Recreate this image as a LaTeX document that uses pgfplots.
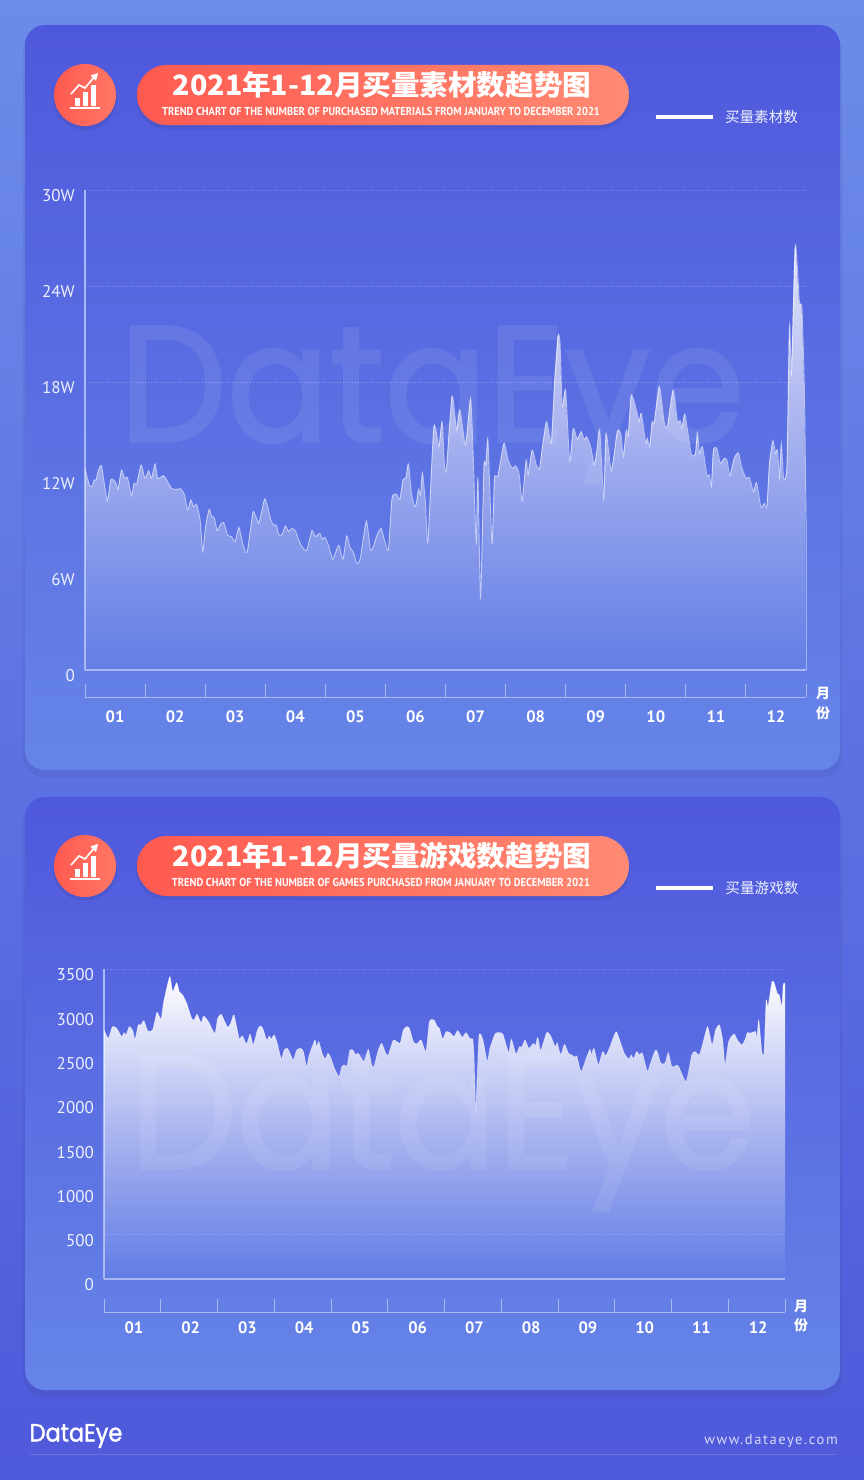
\documentclass[border=0pt]{standalone}
\usepackage{fontspec}
\usepackage{pgfplots}
\usepackage{pgfplotstable}
\pgfplotsset{compat=1.18}
\usetikzlibrary{fadings}
\setmainfont{PT Sans}
\newfontfamily\cjk{Noto Sans CJK SC}
\newfontfamily\markfont[FakeBold=1.6]{Poppins}
\newfontfamily\urlfont[LetterSpace=11]{PT Sans}

\definecolor{axisc}{HTML}{A9B8F2}
\definecolor{pageT}{HTML}{6C8CE9}
\definecolor{pageB}{HTML}{4F59DB}
\definecolor{cardT}{HTML}{4F58DC}
\definecolor{cardB}{HTML}{6685E8}
\definecolor{pillL}{HTML}{FF5A50}
\definecolor{pillR}{HTML}{FF8A73}
\definecolor{labelc}{HTML}{EEF1FD}

\tikzfading[name=areafadeA, top color=transparent!15, bottom color=transparent!100]
\tikzfading[name=areafadeB, top color=transparent!0, bottom color=transparent!100]

% values in W, x is the day position (30 per month on the axis)
\pgfplotstableread{
day val
0 12.60
1.2 11.98
2.5 11.50
3.7 11.50
4.5 11.88
5.5 11.88
6.7 12.50
8.2 12.77
9.5 11.77
11.2 10.56
12.8 11.88
14.2 11.88
15.5 11.67
16.5 11.29
18.2 12.50
19.8 11.98
21.2 12.04
23.2 10.90
24.5 11.67
25.8 11.63
28 12.81
30 11.98
31.8 12.46
33.2 11.98
35 12.88
36.3 11.98
37.8 12.04
39.2 12.15
40.8 11.88
43.2 11.35
45.8 11.29
47.8 11.33
49.7 10.94
51.2 10.00
52.8 10.63
54.2 10.21
55.8 10.33
57.5 9.38
58.8 7.40
60.2 8.96
62 10.04
63.3 9.58
64.5 9.54
66 8.71
67.5 9.06
69.2 9.23
71.2 8.44
73.2 8.33
75 8.02
76.8 8.92
78.3 8.13
80 7.40
81.2 7.50
83.8 9.83
85 9.69
86.7 9.17
88 9.79
89.7 10.69
91.2 10.21
92.8 9.38
94.2 9.06
95.5 9.06
96.8 8.44
98.5 8.48
100 9.00
101.7 8.65
103.3 8.85
105 8.71
106.7 8.13
108.3 7.71
110.7 7.46
113.3 8.71
115 8.33
117.2 8.54
118.5 8.17
119.8 8.29
121.8 7.71
123.7 6.92
126.7 7.79
128.8 6.92
130.7 8.38
132.2 7.71
134.2 7.29
135.8 6.63
137.5 6.98
140.5 9.31
142.5 7.50
144.2 7.77
145.5 8.33
147.8 8.85
149.5 8.13
151.5 7.50
153.3 10.73
155.5 11.00
157.2 10.67
158.8 11.88
160.3 12.04
161.5 12.88
163 11.04
164.5 10.21
165.5 10.42
166.5 11.29
167.5 10.94
168.5 12.33
170 10.42
171.2 8.02
174.2 15.21
176.7 13.96
178.3 15.52
179.5 12.71
180.5 12.60
183.3 17.13
185.5 15.00
187.2 16.25
190 14.06
192.5 16.98
193.7 13.96
195.3 7.92
196.2 11.98
197.5 4.42
199.2 12.71
200.2 12.81
201.2 14.38
203.2 7.92
204.5 11.98
206.2 12.13
209.2 14.17
211.2 13.13
213.3 12.60
215 12.75
216.7 12.29
218.3 10.58
220.3 13.13
221.2 12.19
223.3 13.75
225.3 12.81
227 12.60
228.3 13.85
230.5 15.52
232.8 14.17
234.5 18.02
236.2 20.88
237.2 20.42
238.3 16.46
240 17.50
242 13.02
243.8 15.10
245.8 14.42
247.8 14.90
249.2 14.38
250.5 14.58
252.5 13.96
254.2 12.81
255.5 13.54
257 15.00
259 10.67
260.2 14.79
262.8 12.46
265.8 14.90
267.5 14.79
268.8 13.33
270.3 15.00
271.2 14.58
272.8 17.19
275.5 16.15
276.7 15.52
277.8 16.04
280 14.17
280.8 14.48
282 13.96
283.2 15.52
284.2 15.42
286.8 17.71
289.2 15.46
290.8 15.21
293.7 17.50
295.8 15.52
297.2 15.58
298 15.10
299.5 16.00
300.8 15.00
302.8 13.44
304.8 13.50
305.8 14.83
306.8 13.54
308.3 13.96
310.5 12.19
311.8 12.19
312.8 11.46
313.8 13.75
315.5 13.85
317.2 12.92
319.2 13.23
320.5 13.13
322 12.15
324.2 13.23
326.3 13.58
327.8 12.71
330 11.98
331.7 12.04
333.8 11.15
335.3 11.71
337.5 10.17
339.2 10.42
340.5 10.21
341.8 12.92
343.5 14.33
344.8 13.54
345.8 13.75
346.8 11.98
347.7 14.17
348.8 11.98
350.5 12.71
351.8 21.56
352.8 18.54
354.7 26.56
356.7 23.02
358 22.60
359.2 17.50
360 9.50
}\materials

\pgfplotstableread{
day val
0 2811
2.3 2717
4.4 2849
6.7 2830
9.3 2736
10.6 2781
11.6 2755
13.4 2849
15.2 2804
16.4 2706
18.1 2868
19.6 2868
21.1 2917
23.1 2800
25.7 2811
28.0 3011
30.1 2932
31.4 3112
33.5 3319
34.9 3413
36.3 3244
38.4 3346
39.8 3244
41.6 3206
43.7 3112
46.3 2943
47.6 2924
49.2 2988
51.3 2894
52.7 2969
55.2 2905
56.9 2830
58.7 2774
60.1 2943
61.9 2988
63.4 2924
65.4 2841
67.0 2887
68.7 2981
71.4 2717
73.1 2744
75.4 2653
77.2 2766
78.9 2642
81.1 2811
82.5 2856
83.9 2830
86.0 2698
87.4 2744
88.3 2706
90.0 2755
91.6 2661
93.7 2484
95.2 2585
96.9 2604
98.3 2548
100.1 2473
101.9 2585
104.0 2604
105.4 2567
107.1 2397
108.5 2529
111.5 2698
112.4 2616
113.5 2680
115.6 2529
117.0 2484
118.4 2548
120.0 2491
121.8 2378
124.2 2284
125.6 2390
126.9 2416
128.5 2405
130.0 2585
131.8 2578
133.0 2529
134.4 2548
137.4 2454
139.7 2593
141.5 2416
142.7 2397
145.0 2585
146.8 2661
148.9 2548
150.3 2529
153.0 2698
156.5 2661
158.2 2811
160.0 2849
161.4 2830
163.5 2680
165.3 2653
167.6 2698
170.2 2567
172.0 2905
174.4 2924
176.2 2849
177.3 2830
179.0 2706
180.8 2792
182.9 2781
185.0 2736
187.0 2804
189.4 2728
191.4 2781
193.5 2710
194.9 2710
195.6 2510
196.5 1889
198.2 2736
200.2 2706
202.6 2454
204.0 2604
206.7 2766
208.5 2781
210.8 2766
213.9 2555
215.3 2706
217.8 2537
219.6 2623
220.8 2616
222.6 2698
224.5 2604
227.0 2661
228.0 2631
229.3 2728
230.8 2578
234.0 2781
236.1 2744
238.6 2616
239.5 2668
241.4 2529
243.4 2649
245.5 2548
247.2 2529
249.0 2503
249.9 2518
252.2 2341
255.2 2510
256.9 2593
257.6 2529
259.0 2604
261.3 2416
263.6 2567
265.2 2518
267.5 2623
270.7 2792
273.1 2661
275.2 2540
277.4 2484
278.8 2529
279.8 2484
281.6 2567
283.0 2529
284.6 2548
287.2 2341
288.6 2416
291.3 2578
292.5 2567
294.3 2435
296.6 2435
298.3 2555
300.1 2397
301.9 2405
303.6 2405
307.7 2228
310.7 2529
312.4 2567
314.7 2529
316.8 2680
319.1 2849
321.4 2642
323.3 2811
325.3 2868
327.0 2698
328.3 2416
330.2 2680
333.0 2766
334.8 2698
337.1 2642
338.8 2698
340.1 2781
341.5 2774
344.5 2792
345.0 2680
346.1 2924
347.7 2567
348.9 2548
350.0 3142
351.0 3075
353.0 3349
354.2 3346
356.0 3218
357.0 3206
358.3 3075
359.1 3331
360 3331
}\games

% title block, drawn once per card
\newcommand{\cardhead}[3]{%
  \fill[black,opacity=0.07] (85,98) circle (32);
  \shade[left color=pillL,right color=pillR!60!pillL] (85,95) circle (31);
  \fill[white] (70,106.5) rectangle (100,108.5);
  \fill[white] (75,98) rectangle (80,106);
  \fill[white] (83,92) rectangle (88,106);
  \fill[white] (91,85) rectangle (96,106);
  \draw[white,line width=1.6pt] (71,94) -- (79,85) -- (85,88) -- (95,76);
  \fill[white] (98,73) -- (90.5,75.5) -- (96,81) -- cycle;
  \fill[black,opacity=0.06,rounded corners=30] (136,68) rectangle (630,129);
  \shade[left color=pillL,right color=pillR,rounded corners=30] (137,65) rectangle (629,125);
  \node[text=white,font=\cjk\bfseries\fontsize{28}{28}\selectfont,xscale=1.02] at (382,85) {#1};
  \node[text=white,font=\bfseries\fontsize{11.5}{11.5}\selectfont,xscale=#3] at (381,111) {#2};
}

\pgfplotsset{
  chartbase/.style={
    scale only axis,
    anchor=south west,
    axis x line*=bottom,
    axis y line*=left,
    axis line style={axisc,line width=1.1pt},
    xmin=0, xmax=360,
    xtick=\empty,
    ymin=0,
    clip=false,
    tick style={draw=none},
    y tick label style={text=labelc,font=\fontsize{17}{17}\selectfont,yshift=-6pt,inner xsep=0pt,xshift=-10pt},
    /pgf/number format/assume math mode=true,
    /pgf/number format/.cd,1000 sep={},/pgfplots/.cd,
    grid style={white,opacity=0.3,dash pattern=on 1pt off 2pt,line width=0.7pt},
    legend style={draw=none,fill=none,inner sep=0pt,font=\cjk\fontsize{14.6}{14.6}\selectfont,text=labelc,anchor=east},
    legend image code/.code={\draw[white,line width=4pt,opacity=1] (0pt,0pt) -- (57pt,0pt);\path[draw=none] (0pt,0pt) -- (67pt,0pt);},
    legend cell align=left,
  },
  arealine/.style={draw=white,smooth,tension=0.35,no marks},
  monthbase/.style={
    scale only axis,
    anchor=south west,
    axis x line=bottom,
    axis y line=none,
    axis line style={axisc,line width=1pt,-},
    xmin=0, xmax=360, ymin=0, ymax=1,
    height=14pt,
    xtick={15,45,...,345},
    xticklabels={01,02,03,04,05,06,07,08,09,10,11,12},
    major tick length=0pt,
    minor xtick={0,30,...,360},
    minor tick length=13pt,
    minor tick style={axisc,line width=0.9pt},
    tick align=inside,
    x tick label style={text=white,font=\bfseries\fontsize{16.5}{16.5}\selectfont},
  },
}

\begin{document}
\begin{tikzpicture}[x=1pt,y=-1pt]
\path[use as bounding box] (0,0) rectangle (864,1480);
\shade[top color=pageT,bottom color=pageB] (0,0) rectangle (864,1480);

% cards
\fill[black,opacity=0.05,rounded corners=20] (23,30) rectangle (842,777);
\shade[top color=cardT,bottom color=cardB,rounded corners=20] (25,25) rectangle (840,770);
\fill[black,opacity=0.05,rounded corners=20] (23,802) rectangle (842,1397);
\shade[top color=cardT,bottom color=cardB,rounded corners=20] (25,797) rectangle (840,1390);

% watermarks
\begin{scope}[transparency group,opacity=0.08]
\node[text=white,font=\markfont\fontsize{165}{165}\selectfont,xscale=0.92] at (432,405) {DataEye};
\node[text=white,font=\markfont\fontsize{165}{165}\selectfont,xscale=0.92] at (442,1132) {DataEye};
\end{scope}

\cardhead{2021年1-12月买量素材数趋势图}{TREND CHART OF THE NUMBER OF PURCHASED MATERIALS FROM JANUARY TO DECEMBER 2021}{0.91}
\begin{scope}[shift={(0,771)}]
\cardhead{2021年1-12月买量游戏数趋势图}{TREND CHART OF THE NUMBER OF GAMES PURCHASED FROM JANUARY TO DECEMBER 2021}{0.91}
\end{scope}

% upper chart
\begin{axis}[chartbase,
  at={(85pt,-670pt)},
  width=721pt, height=480pt,
  ymax=30,
  ytick={0,6,12,18,24,30},
  yticklabels={0,6W,12W,18W,24W,30W},
  extra y ticks={18,24,30},
  extra y tick labels={},
  extra y tick style={grid=major},
  legend style={at={(0.992,1.152)}},
]
\addplot[draw=none,fill=white,path fading=areafadeA,smooth,tension=0.35,forget plot] table[x=day,y=val] {\materials} \closedcycle;
\addplot[arealine,line width=0.9pt,opacity=0.55] table[x=day,y=val] {\materials};
\addlegendentry{买量素材数}
\addplot[draw=white,line width=0.9pt,opacity=0.4,forget plot] coordinates {(360,9.50)(360,0)};
\end{axis}
\begin{axis}[monthbase, at={(85pt,-697pt)}, width=721pt, x tick label style={yshift=-10pt}]
\addplot[draw=none,forget plot] coordinates {(0,0)(360,1)};
\end{axis}
\node[text=white,font=\cjk\bfseries\fontsize{14}{14}\selectfont] at (823,693) {月};
\node[text=white,font=\cjk\bfseries\fontsize{14}{14}\selectfont] at (823,713) {份};

% lower chart
\begin{axis}[chartbase,
  at={(104pt,-1279pt)},
  width=681pt, height=310pt,
  ymax=3500,
  ytick={0,500,...,3500},
  extra y ticks={500,2000,3500},
  extra y tick labels={},
  extra y tick style={grid=major},
  legend style={at={(1.023,1.261)}},
]
\addplot[draw=none,fill=white,path fading=areafadeB,smooth,tension=0.35,forget plot] table[x=day,y=val] {\games} \closedcycle;
\addplot[arealine,line width=0.6pt,opacity=0.5] table[x=day,y=val] {\games};
\addlegendentry{买量游戏数}
\end{axis}
\begin{axis}[monthbase, at={(104pt,-1312pt)}, width=681pt, x tick label style={yshift=-6pt,xshift=1.5pt}]
\addplot[draw=none,forget plot] coordinates {(0,0)(360,1)};
\end{axis}
\node[text=white,font=\cjk\bfseries\fontsize{14}{14}\selectfont] at (801,1306) {月};
\node[text=white,font=\cjk\bfseries\fontsize{14}{14}\selectfont] at (801,1325) {份};

% footer
\node[text=white,font=\markfont\fontsize{25}{25}\selectfont,xscale=0.9,anchor=center,inner sep=0pt] at (76,1436) {DataEye};
\node[text=labelc!85!pageB,font=\urlfont\fontsize{14.5}{14.5}\selectfont,anchor=east,inner sep=0pt] at (838,1441) {www.dataeye.com};
\draw[white,opacity=0.14,line width=1pt] (30,1454) -- (838,1454);
\end{tikzpicture}
\end{document}
